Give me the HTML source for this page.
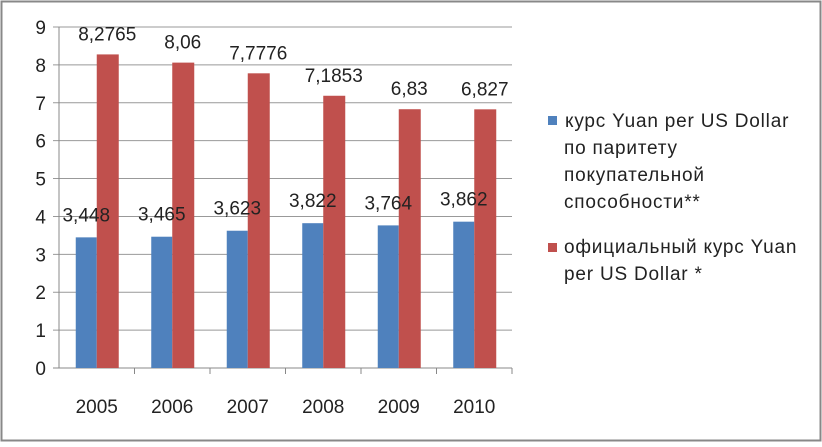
<!DOCTYPE html>
<html><head><meta charset="utf-8"><style>
body{margin:0;background:#fff}
svg text{font-family:"Liberation Sans","DejaVu Sans",sans-serif}
</style></head><body>
<svg width="822" height="442" xmlns="http://www.w3.org/2000/svg">
<rect x="1.5" y="1.5" width="819" height="439" fill="#fff" stroke="#888" stroke-width="2"/>
<g id="grid"></g><g id="bars"></g><g id="labels"></g>
<g font-size="19" letter-spacing="0.8" fill="#222">
<rect x="548" y="116" width="9" height="9" fill="#4f81bd"/>
<text x="565" y="127">курс Yuan per US Dollar</text>
<text x="564" y="154">по паритету</text>
<text x="564" y="181">покупательной</text>
<text x="564" y="208">способности**</text>
<rect x="548" y="243" width="9" height="9" fill="#c0504d"/>
<text x="564" y="253">официальный курс Yuan</text>
<text x="564" y="280">per US Dollar *</text>
</g>
</svg>
<script>
const categories=["2005","2006","2007","2008","2009","2010"];
const pppValues=[3.448,3.465,3.623,3.822,3.764,3.862];
const officialValues=[8.2765,8.06,7.7776,7.1853,6.83,6.827];
const pppLabels=["3,448","3,465","3,623","3,822","3,764","3,862"];
const officialLabels=["8,2765","8,06","7,7776","7,1853","6,83","6,827"];
const yTicks=[0,1,2,3,4,5,6,7,8,9];
const NS="http://www.w3.org/2000/svg";
const x0=59,x1=512,yb=368,yt=27,ymax=9;
const cw=(x1-x0)/categories.length,bw=21;
const y=v=>yb-(v/ymax)*(yb-yt);
const cx=i=>x0+cw*(i+0.5);
function mk(tag,attrs,parent,txt){const e=document.createElementNS(NS,tag);for(const k in attrs)e.setAttribute(k,attrs[k]);if(txt!==undefined)e.textContent=txt;document.getElementById(parent).appendChild(e);return e;}
yTicks.forEach(t=>{
 const l=mk('line',{x1:53,x2:x1,y1:y(t),y2:y(t),stroke:t===0?'#888':'#999','stroke-width':1},'grid');
 
 
 const tx=mk('text',{x:46,y:y(t)+7,'text-anchor':'end','font-size':19,fill:'#222'},'grid',String(t));
 
 
});
const ax=mk('line',{x1:x0,x2:x0,y1:yt,y2:yb,stroke:'#888'},'grid');


categories.forEach((c,i)=>{
 const tk=mk('line',{x1:x0+cw*(i+1),x2:x0+cw*(i+1),y1:yb,y2:yb+6,stroke:'#888'},'grid');
 
 
 const t=mk('text',{x:cx(i),y:yb+45,'text-anchor':'middle','font-size':19,fill:'#222'},'labels',c);
 
 
 const b=mk('rect',{x:cx(i)-bw,y:y(pppValues[i]),width:bw,height:yb-y(pppValues[i]),fill:'#4f81bd'},'bars');
 
 
 const r=mk('rect',{x:cx(i),y:y(officialValues[i]),width:bw+1,height:yb-y(officialValues[i]),fill:'#c0504d'},'bars');
 
 
 const lb=mk('text',{x:cx(i)-bw/2,y:y(pppValues[i])-16,'text-anchor':'middle','font-size':19,fill:'#222'},'labels',pppLabels[i]);
 
 
 const lr=mk('text',{x:cx(i)+bw/2,y:y(officialValues[i])-14,'text-anchor':'middle','font-size':19,fill:'#222'},'labels',officialLabels[i]);
 
 
});
</script>
</body></html>
